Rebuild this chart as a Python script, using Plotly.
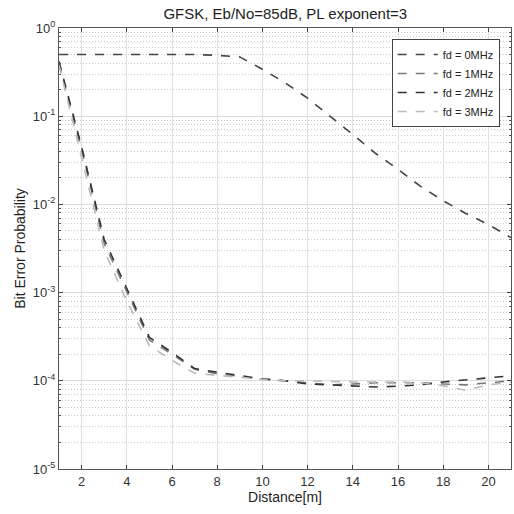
import plotly.graph_objects as go

distance = list(range(1, 22))
ber_fd0 = [0.5, 0.5, 0.5, 0.5, 0.5, 0.5, 0.5, 0.49, 0.47, 0.34, 0.24, 0.16, 0.1, 0.062, 0.038,
           0.025, 0.016, 0.011, 0.0079, 0.0059, 0.0042]
ber_fd1 = [0.4, 0.042, 0.0036, 0.001, 0.00029, 0.0002, 0.000135, 0.00012, 0.000112, 0.000105,
           0.0001, 0.000095, 0.00009, 0.000092, 0.000095, 0.000095, 0.000095, 0.000092, 0.00009,
           0.000095, 0.0001]
ber_fd2 = [0.42, 0.045, 0.004, 0.0011, 0.00031, 0.00021, 0.000138, 0.000125, 0.000115, 0.000105,
           0.0001, 0.000092, 0.00009, 0.000087, 0.000085, 0.000087, 0.00009, 0.000097, 0.000102,
           0.000108, 0.000114]
ber_fd3 = [0.38, 0.035, 0.003, 0.0008, 0.00025, 0.00017, 0.000122, 0.000115, 0.00011, 0.000103,
           0.0001, 0.0001, 0.000098, 0.000097, 0.000097, 0.000097, 0.000095, 0.000088, 0.000078,
           0.00009, 0.000097]
names = ["fd = 0MHz", "fd = 1MHz", "fd = 2MHz", "fd = 3MHz"]
y_tickvals = [1e-5, 1e-4, 1e-3, 1e-2, 1e-1, 1]
y_ticktext = ["10<sup>-5</sup>", "10<sup>-4</sup>", "10<sup>-3</sup>", "10<sup>-2</sup>",
              "10<sup>-1</sup>", "10<sup>0</sup>"]
colors = ["#444444", "#7a7a7a", "#333333", "#bbbbbb"]

fig = go.Figure()
for name, ys, c in zip(names, [ber_fd0, ber_fd1, ber_fd2, ber_fd3], colors):
    fig.add_trace(go.Scatter(x=distance, y=ys, name=name, mode="lines",
                             line=dict(color=c, width=1.6, dash="dash")))

fnt = "Liberation Sans, Arial, sans-serif"
fig.update_layout(
    width=514, height=514,
    margin=dict(l=59, r=3, t=28, b=45),
    paper_bgcolor="white", plot_bgcolor="white",
    font=dict(family=fnt, size=13, color="#333333"),
    title=dict(text="GFSK, Eb/No=85dB, PL exponent=3", x=0.555, xanchor="center",
               y=0.973, yanchor="middle", font=dict(size=15, color="#222222")),
    legend=dict(x=0.975, xanchor="right", y=0.975, yanchor="top",
                bordercolor="#444444", borderwidth=1, bgcolor="white",
                font=dict(size=11, color="#222222"), itemwidth=40,
                tracegroupgap=0),
    showlegend=True,
)
fig.update_xaxes(
    range=[1, 21], tick0=2, dtick=2, ticks="inside", ticklen=4,
    showline=True, linecolor="#555555", linewidth=1, mirror="ticks",
    showgrid=True, gridcolor="#e0e0e0", gridwidth=1, zeroline=False,
    title=dict(text="Distance[m]", standoff=4, font=dict(size=14, color="#222222")),
)
fig.update_yaxes(
    type="log", range=[-5, 0], tickvals=y_tickvals, ticktext=y_ticktext,
    ticks="inside", ticklen=4,
    showline=True, linecolor="#555555", linewidth=1, mirror="ticks",
    showgrid=True, gridcolor="#dcdcdc", gridwidth=1, zeroline=False,
    minor=dict(dtick="D1", showgrid=True, gridcolor="#c8c8c8", griddash="1px,2px",
               ticks="inside", ticklen=2, tickcolor="#555555"),
    title=dict(text="Bit Error Probability", standoff=3, font=dict(size=14, color="#222222")),
)
fig.write_html("out.html", config={"displayModeBar": False},
               post_script="document.body.style.margin='0';")
